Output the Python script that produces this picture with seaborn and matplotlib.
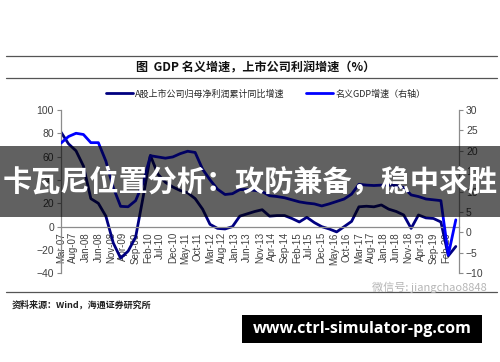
import pandas as pd
import matplotlib
matplotlib.use('Agg')
import matplotlib.pyplot as plt
from matplotlib.lines import Line2D
from matplotlib.patches import Rectangle
import seaborn as sns

# quarterly observations, Mar-07 .. Jun-20
quarters = pd.date_range('2007-03-01', '2020-06-01', freq='3MS')

# A股上市公司归母净利润累计同比增速 (left axis, %)
profit_growth = [81, 71, 65, 52, 24, 20, 9, -14, -27, -21, -9, 25,
                 61, 45, 38, 34, 31, 29, 24, 15, 2, -1.5, -2, 0,
                 9, 11, 13, 14.5, 9, 9.5, 9.5, 7, 4, 8, 3.5, 0,
                 -2, -4.5, 0, 4.5, 17, 17.5, 17, 18.6, 15, 13, 10, -1.5,
                 10, 7.5, 7, 4, -25, -17]

# 名义GDP增速 (right axis, %)
gdp_growth = [21.9, 23.5, 24.3, 24.0, 22.0, 22.0, 17.5, 11.0, 6.4, 6.3, 7.8, 12.1,
              18.8, 18.5, 18.2, 18.5, 19.3, 19.9, 19.6, 15.5, 12.9, 10.6, 9.3, 9.5,
              10.5, 10.5, 10.3, 10.0, 9.0, 8.8, 8.5, 8.0, 7.5, 7.2, 7.0, 6.5,
              7.0, 7.6, 8.2, 9.4, 11.8, 11.6, 11.5, 11.6, 11.6, 11.5, 11.0, 9.2,
              8.8, 8.2, 8.0, 7.8, -5.5, 3.1]

tick_labels = ['Mar-07', 'Aug-07', 'Jan-08', 'Jun-08', 'Nov-08', 'Apr-09', 'Sep-09', 'Feb-10',
               'Jul-10', 'Dec-10', 'May-11', 'Oct-11', 'Mar-12', 'Aug-12', 'Jan-13', 'Jun-13',
               'Nov-13', 'Apr-14', 'Sep-14', 'Feb-15', 'Jul-15', 'Dec-15', 'May-16', 'Oct-16',
               'Mar-17', 'Aug-17', 'Jan-18', 'Jun-18', 'Nov-18', 'Apr-19', 'Sep-19', 'Feb-20']
left_ticks = [-40, -20, 0, 20, 40, 60, 80, 100]
right_ticks = [-10, -5, 0, 5, 10, 15, 20, 25, 30]

W, H = 500, 362


def fy(py):
    return 1 - py / H


sns.set_style('white')
plt.rcParams['font.family'] = ['Liberation Sans', 'Noto Sans CJK SC']
cjk = ['Noto Sans CJK SC', 'DejaVu Sans']

fig = plt.figure(figsize=(W / 100, H / 100), dpi=100)
ax = fig.add_axes([61 / W, fy(273.3), (459 - 61) / W, (273.3 - 110) / H])
ax2 = ax.twinx()

sns.lineplot(x=quarters, y=profit_growth, ax=ax, color='#000080', linewidth=2.0)
sns.lineplot(x=quarters, y=gdp_growth, ax=ax2, color='#0000FF', linewidth=2.0)

ax.set_ylim(-40, 100)
ax2.set_ylim(-10, 30)
ax.set_xlim(pd.Timestamp('2007-03-01'), pd.Timestamp('2020-07-10'))
ax.set_yticks(left_ticks)
ax2.set_yticks(right_ticks)
ax.set_xticks(pd.to_datetime(tick_labels, format='%b-%y'))
ax.set_xticklabels(tick_labels)
ax.set_xlabel('')
ax.set_ylabel('')
ax2.set_ylabel('')

spine_col = '#8c8c8c'
for a in (ax, ax2):
    for s in a.spines.values():
        s.set_color(spine_col)
        s.set_linewidth(0.9)
    a.spines['top'].set_visible(False)
ax.spines['right'].set_visible(False)
ax2.spines['left'].set_visible(False)
ax2.spines['bottom'].set_visible(False)
ax.spines['bottom'].set_position(('data', 0))

ax.tick_params(axis='x', direction='out', length=3, width=0.8, color=spine_col,
               labelsize=7, labelcolor='#404040', pad=1, labelrotation=90)
ax.tick_params(axis='y', direction='out', length=3, width=0.8, color=spine_col,
               labelsize=7.5, labelcolor='#404040', left=True, pad=2)
ax2.tick_params(axis='y', direction='out', length=3, width=0.8, color=spine_col,
                labelsize=7.5, labelcolor='#404040', right=True, pad=2)
for lbl in ax.get_xticklabels():
    lbl.set_rotation(90)
    lbl.set_va('top')
    lbl.set_ha('center')
ax.grid(False)
ax2.grid(False)

# legend
handles = [Line2D([], [], color='#000080', linewidth=2.0),
           Line2D([], [], color='#0000FF', linewidth=2.0)]
fig.legend(handles, ['A股上市公司归母净利润累计同比增速', '名义GDP增速（右轴）'],
           loc='center left', bbox_to_anchor=(102 / W, fy(94)), ncol=2, frameon=False,
           prop={'family': cjk, 'size': 6.5}, handlelength=3.0, handletextpad=0.25,
           columnspacing=2.4, borderaxespad=0)

# header / footer rules
for py in (56, 78, 292):
    fig.add_artist(Line2D([6 / W, 497 / W], [fy(py), fy(py)], transform=fig.transFigure,
                          color='#555555', linewidth=0.9))

fig.text(256 / W, fy(67.5), '图  GDP 名义增速，上市公司利润增速（%）', ha='center', va='center',
         fontsize=8.7, fontweight='bold', family=cjk, color='#111111')
fig.text(12 / W, fy(305), '资料来源：Wind，海通证券研究所', ha='left', va='center',
         fontsize=6.5, fontweight='bold', family=cjk, color='#222222')
fig.text(487 / W, fy(287), '微信号: jiangchao8848', ha='right', va='center',
         fontsize=8, family=cjk, color='#b5b5b5')

# overlay banner
fig.add_artist(Rectangle((0, fy(216.7)), 1, (216.7 - 146) / H, transform=fig.transFigure,
                         facecolor='black', alpha=0.62, edgecolor='none', zorder=10))
fig.text(0.5, fy(182), '卡瓦尼位置分析：攻防兼备，稳中求胜', ha='center', va='center',
         fontsize=21, fontweight='bold', family=cjk, color='white', zorder=11)

# url box
fig.add_artist(Rectangle((242 / W, fy(343)), 240 / W, 28 / H, transform=fig.transFigure,
                         facecolor='black', edgecolor='none', zorder=10))
fig.text(362 / W, fy(329), 'www.ctrl-simulator-pg.com', ha='center', va='center',
         fontsize=11.5, fontweight='bold', family='Open Sans', color='white', zorder=11)

fig.savefig('out.png', dpi=100)
